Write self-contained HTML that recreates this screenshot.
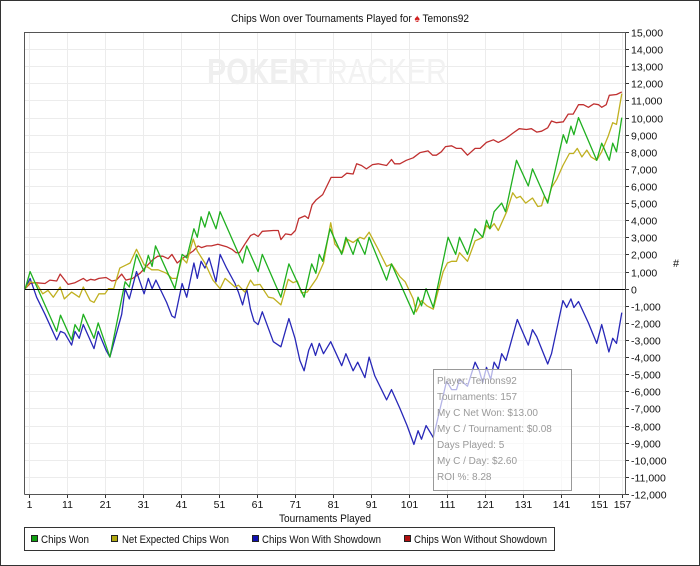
<!DOCTYPE html>
<html><head><meta charset="utf-8"><style>
body{margin:0;background:#fff}
#wrap{position:relative;width:700px;height:566px;overflow:hidden}
svg text{font-family:"Liberation Sans",sans-serif}
</style></head><body>
<div id="wrap">
<svg id="chart" width="700" height="566" viewBox="0 0 700 566">
<rect x="0.5" y="0.5" width="699" height="565" fill="#fff" stroke="#333"/>
<text x="350" y="22" text-anchor="middle" font-size="11" fill="#111" textLength="238" lengthAdjust="spacingAndGlyphs">Chips Won over Tournaments Played for <tspan fill="#d02020">♠</tspan> Temons92</text>
<g id="grid"></g>
<g><text x="207" y="84" font-size="36" font-weight="bold" fill="#efefef" textLength="240" lengthAdjust="spacingAndGlyphs">POKER<tspan font-weight="normal" fill="#f2f2f2">TRACKER</tspan></text></g>
<g id="series"></g>
<g id="axes"></g>
<text x="325" y="522" text-anchor="middle" font-size="11" fill="#111" textLength="92" lengthAdjust="spacingAndGlyphs">Tournaments Played</text>
<text x="676" y="267" text-anchor="middle" font-size="11" fill="#111">#</text>
<g>
<rect x="433.5" y="369.5" width="138" height="121" fill="#fff" fill-opacity="0.65" stroke="#999"/>
<g font-size="10" fill="#999">
<text x="437" y="384">Player: Temons92</text>
<text x="437" y="400">Tournaments: 157</text>
<text x="437" y="416">My C Net Won: $13.00</text>
<text x="437" y="432">My C / Tournament: $0.08</text>
<text x="437" y="448">Days Played: 5</text>
<text x="437" y="464">My C / Day: $2.60</text>
<text x="437" y="480">ROI %: 8.28</text>
</g></g>
<g>
<rect x="24.5" y="527.5" width="530" height="23" fill="#fff" stroke="#333"/>
<g><rect x="31.5" y="535.5" width="6" height="6" fill="#10a010" stroke="#222"/><text x="41" y="543" font-size="11" fill="#111" textLength="48" lengthAdjust="spacingAndGlyphs">Chips Won</text></g>
<g><rect x="111.5" y="535.5" width="6" height="6" fill="#b0a810" stroke="#222"/><text x="122" y="543" font-size="11" fill="#111" textLength="107" lengthAdjust="spacingAndGlyphs">Net Expected Chips Won</text></g>
<g><rect x="252.5" y="535.5" width="6" height="6" fill="#1010b0" stroke="#222"/><text x="262" y="543" font-size="11" fill="#111" textLength="119" lengthAdjust="spacingAndGlyphs">Chips Won With Showdown</text></g>
<g><rect x="404.5" y="535.5" width="6" height="6" fill="#b01010" stroke="#222"/><text x="414" y="543" font-size="11" fill="#111" textLength="133" lengthAdjust="spacingAndGlyphs">Chips Won Without Showdown</text></g>
</g>
</svg></div>
<script>
const xTicks=[1,11,21,31,41,51,61,71,81,91,101,111,121,131,141,151,157];
const yTicks=[15,14,13,12,11,10,9,8,7,6,5,4,3,2,1,0,-1,-2,-3,-4,-5,-6,-7,-8,-9,-10,-11,-12];
const greenT=[0,1.3,8.3,9.3,12.2,13.1,14.2,15.3,18.1,19.2,22.3,26.3,27.4,29.3,31.3,32.4,33.4,34.3,39.4,41.3,42.5,44.4,45.3,46.3,47.3,48.4,50.2,51.3,57.2,58.3,61.3,62.4,67.3,69.4,73.4,75.4,76.5,77.4,78.3,80.2,83.3,84.4,86.3,87.5,89.4,90.5,95.1,96.4,102.3,103.4,104.3,105.5,107.4,111.3,113.3,114.3,116.4,118.4,120.4,121.4,122.3,123.4,125.4,126.4,129.3,132.4,133.5,137.5,141.6,142.5,143.6,144.4,145.6,150.4,151.7,153.7,154.6,155.6,157];
const greenV=[0,1.0,-2.5,-1.55,-3.0,-2.1,-2.5,-1.5,-2.9,-2.0,-4.0,0.4,0.1,2.0,1.0,1.95,1.3,2.5,0,2.0,1.8,3.5,3.0,4.2,3.6,4.5,3.5,4.5,1.5,2.5,1.0,2.0,-0.5,1.45,-0.5,1.45,0.9,2.0,1.6,3.5,2.0,3.0,2.0,2.9,2.0,3.0,0.5,1.45,-1.5,-0.5,-1.0,0,-1.1,3.0,2.0,3.0,2.0,3.5,3.0,4.0,3.5,4.5,5.0,4.5,7.5,6.0,7.0,5.0,9.0,8.5,9.5,9.0,10.0,7.5,8.5,7.5,8.5,8.0,10.0];
const yellowT=[0,1.3,3,4.6,6,7.4,9.2,10.3,12.2,14.2,15.3,17.1,18.1,19.4,21,21.9,23.3,24.9,27.6,29.3,31.3,33.3,35,37.2,38.6,39.9,41.3,42.5,44.2,45.3,47.3,49.4,51.3,52.6,55.2,56.1,57.8,59.3,60.2,61.8,64,65.3,67.3,69.2,70.5,71.6,72.7,74.2,76.7,78.5,80.4,81.5,83.5,84.6,86.3,88.1,89.2,90.5,92.9,95.1,96.4,98.6,100,102.1,102.9,104.3,105.7,107.4,110,111.1,112.2,113.5,114.3,116.4,118.4,119.5,120.4,121.4,122.3,123.4,124.5,126.7,128.3,129.3,130.3,131.7,133.5,134.9,135.9,136.6,137.5,138.5,139.9,141.5,143.2,144.3,145.3,146.5,147.8,148.9,150.4,151.7,153.4,154.6,155.6,157];
const yellowV=[0,0.4,0.3,-0.3,-0.1,-0.5,0.1,-0.6,-0.2,-0.5,0.1,-0.7,-0.8,-0.3,-0.3,0,0,1.2,1.5,2.3,1.4,1.1,1.1,0.9,0.6,0.6,1.8,1.5,2.9,2.2,1.5,0.5,0,0.6,0.1,0.2,-0.2,0.5,0.2,0.25,-0.5,-0.55,-0.95,0.55,0.35,0.45,-0.25,-0.2,0.6,1.5,3.85,2.6,2.1,2.9,2.7,3.0,2.9,3.3,2.3,1.3,1.45,0.7,0.4,-0.6,-1.35,-0.7,-1.0,-1.2,1.0,1.5,1.6,1.6,2.1,1.6,2.8,2.9,3.0,3.7,3.5,3.8,3.4,4.5,5.6,5.3,5.4,5.0,5.3,4.8,4.85,5.4,5.1,5.9,6.4,7.2,7.9,7.9,8.2,7.7,8.1,7.7,7.5,8.0,8.9,9.7,9.6,11.4];
const blueT=[0,1.3,3,5.2,8.3,9.3,10.4,12.2,13.1,14.2,15.3,18.1,19.2,21.3,22.3,25.4,26.3,27.4,29.3,31.3,32.4,33.4,34.4,37.2,38.6,39.4,41.3,42.5,44.4,45.3,46.3,47.3,48.4,50.2,51.3,53,55.2,56.1,57.2,58.3,59.3,60.2,61.3,62.4,65.3,67.3,69.4,71,72.3,73.4,74.6,75.4,76.4,77.4,78.5,80.4,83.3,84.4,86.3,87.5,89.4,90.5,92,95.1,96.4,98.6,100.5,102.3,103.4,104.3,105.5,107.4,110.9,112.2,113.5,114.3,116.4,118.4,119.5,120.4,121.4,122.5,123.4,124.5,125.4,126.5,129.5,132.4,133.5,134.6,137.5,138.5,141.5,142.5,143.6,144.4,145.6,148.2,150.4,151.7,153.6,154.6,155.6,157];
const blueV=[0,0.6,-0.5,-1.5,-3.0,-2.5,-2.6,-3.3,-2.5,-2.9,-2.1,-3.5,-2.5,-3.6,-4.0,-1.5,0,-0.6,1.0,-0.3,0.6,0,0.5,-0.8,-1.6,-1.7,0.3,-0.5,1.5,0.6,1.6,1.2,1.8,0.4,2.0,1.2,0.3,-0.2,-0.95,0,-1.2,-1.9,-2.1,-1.35,-3.1,-3.4,-1.75,-2.9,-4.2,-4.8,-3.6,-3.2,-3.9,-3.2,-3.8,-3.1,-4.5,-3.8,-4.8,-4.3,-5.2,-4.0,-5.1,-6.5,-5.9,-7.0,-8.0,-9.1,-8.3,-8.8,-8.0,-8.7,-5.4,-5.9,-5.9,-5.3,-5.7,-4.3,-4.8,-5.5,-4.6,-5.3,-4.3,-4.7,-3.8,-4.2,-1.8,-3.3,-2.4,-2.8,-4.4,-3.8,-0.7,-1.1,-0.6,-1.1,-0.75,-2.0,-3.2,-2.1,-3.7,-2.9,-3.2,-1.4];
const redT=[0,1.3,2.6,5.2,6.5,8.3,9.2,11.3,13.1,15.3,16.2,17.2,18.3,19.4,21.3,22.8,24,25.4,26.5,28.3,30.2,31.9,33.6,34.9,36.2,37.6,38.6,40,41.6,42.9,44.2,45.5,46.4,47.8,49,50.7,53,54.4,55.5,56.4,57.8,59.3,60.2,61.3,62.4,65.3,66.6,67.3,68.5,70,71.1,72,73.6,74.5,75.5,76.6,78.3,80.5,81.5,83.3,84.6,86.3,87.2,88.5,89.8,91.4,92.9,95.1,96.4,97.2,98.6,100.3,102.1,103.9,106,107.2,108.2,109.5,110.6,112.2,113.5,114.8,116.4,118.4,119.7,121.4,123.2,124.5,126.3,128.4,130,131.9,133.2,134.6,135.9,137.5,138.5,139.8,141.6,142.9,144.2,145.6,146.9,148.2,149.6,150.9,151.7,152.9,153.7,155.6,157];
const redV=[0,0.3,0.35,0.3,0.5,0.45,0.85,0.25,0.35,0.6,0.45,0.55,0.5,0.6,0.65,0.45,0.5,0.85,0.5,0.6,0.9,1.3,1.7,1.9,1.9,1.75,2.0,1.5,1.8,2.0,2.2,2.5,2.4,2.5,2.5,2.6,2.45,2.3,2.1,2.1,2.6,3.1,3.2,3.05,3.35,3.4,3.4,2.87,3.2,3.15,3.4,4.1,4.25,4.1,4.9,5.2,5.5,6.5,6.5,6.5,6.75,6.7,7.3,7.2,7.0,7.25,7.3,7.2,7.55,7.3,7.3,7.5,7.65,7.95,8.05,7.8,7.8,8.0,8.3,8.35,8.2,8.2,7.8,8.2,8.2,8.55,8.7,8.55,8.75,9.1,9.35,9.3,9.35,9.15,9.2,9.4,9.8,9.7,9.75,10.2,10.2,10.75,10.75,10.6,10.8,10.75,10.6,10.75,11.3,11.35,11.5];

const NS='http://www.w3.org/2000/svg';
const L=24,R=625,T=32,B=494;
function xs(t){return 29+(Math.min(t,157)-1)*3.8;}
function xp(t){return Math.max(L,Math.min(R,xs(t)));}
function ys(v){return B-(v+12)*(B-T)/27;}
function mk(tag,attrs,parent){const e=document.createElementNS(NS,tag);for(const k in attrs)e.setAttribute(k,attrs[k]);parent.appendChild(e);return e;}
function fmt(v){return (v*1000).toLocaleString('en-US');}
const grid=document.getElementById('grid'),axes=document.getElementById('axes'),ser=document.getElementById('series');
for(const t of xTicks){
  const x=Math.round(xs(t))+0.5;
  const g=mk('line',{x1:x,x2:x,y1:T,y2:B,stroke:'#ececec'},grid);
  
  
  const tk=mk('line',{x1:x,x2:x,y1:B,y2:B+4,stroke:'#333'},axes);
  
  
  const lb=mk('text',{x:x,y:508,'text-anchor':'middle','font-size':'10.5',fill:'#111'},axes);
  lb.textContent=t;
  
  
}
for(const v of yTicks){
  const y=Math.round(ys(v))+0.5;
  const g=mk('line',{x1:L,x2:R,y1:y,y2:y,stroke:v===0?'#000':'#ececec'},v===0?axes:grid);
  
  
  const tk=mk('line',{x1:R,x2:R+4,y1:y,y2:y,stroke:'#333'},axes);
  
  
  const lb=mk('text',{x:631,y:y+4,'font-size':'10.5',fill:'#111'},axes);
  lb.textContent=fmt(v);
  
  
}
const fr=mk('path',{d:`M${L+0.5},${B+0.5}V${T+0.5}H${R+0.5}V${B+0.5}H${L+0.5}`,fill:'none',stroke:'#555'},axes);


function line(ts,vs,color,name){
  const d=ts.map((t,i)=>(i?'L':'M')+xp(t).toFixed(1)+','+ys(vs[i]).toFixed(1)).join('');
  const p=mk('path',{d:d,fill:'none',stroke:color,'stroke-width':'1.3','stroke-linejoin':'round'},ser);
  
  
}
line(redT,redV,'#c03030','line-chips-won-without-showdown');
line(blueT,blueV,'#2828b8','line-chips-won-with-showdown');
line(yellowT,yellowV,'#c0b020','line-net-expected-chips-won');
line(greenT,greenV,'#20b020','line-chips-won');
</script>
</body></html>
